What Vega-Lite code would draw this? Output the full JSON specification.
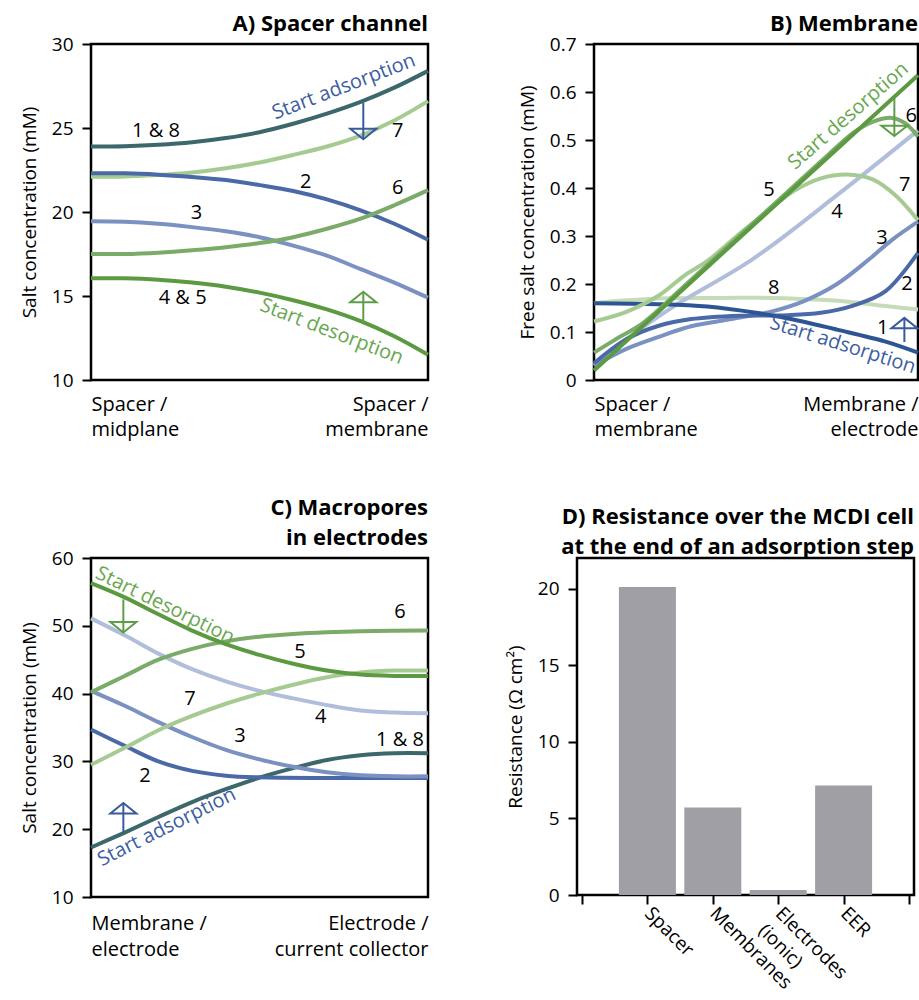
{
  "$schema": "https://vega.github.io/schema/vega-lite/v6.json",
  "background": "white",
  "padding": {"left": 19, "top": 11, "right": 0, "bottom": 0},
  "spacing": 54,
  "vconcat": [
    {
      "spacing": 79,
      "hconcat": [
        {
          "width": 337, "height": 336,
          "title": {"text": "A) Spacer channel"},
          "encoding": {
            "x": {"field": "t", "type": "quantitative", "scale": {"domain": [0, 1], "nice": false},
                  "axis": {"title": null, "values": [0, 1], "ticks": false, "labelFlush": true, "labelPadding": 14, "labelBaseline": "top", "labelFontSize": 20, "labelLineHeight": 25,
                           "labelExpr": "datum.value < 0.5 ? ['Spacer /', 'midplane'] : ['Spacer /', 'membrane']"}},
            "y": {"field": "v", "type": "quantitative", "scale": {"domain": [10, 30], "nice": false, "zero": false},
                  "axis": {"title": "Salt concentration (mM)", "values": [10, 15, 20, 25, 30]}}
          },
          "layer": [
            {
              "data": {"values": [
                {"c": "1 & 8", "t": 0, "v": 23.9}, {"c": "1 & 8", "t": 0.1, "v": 23.92}, {"c": "1 & 8", "t": 0.2, "v": 24.0}, {"c": "1 & 8", "t": 0.3, "v": 24.15}, {"c": "1 & 8", "t": 0.4, "v": 24.4}, {"c": "1 & 8", "t": 0.5, "v": 24.75}, {"c": "1 & 8", "t": 0.6, "v": 25.25}, {"c": "1 & 8", "t": 0.7, "v": 25.85}, {"c": "1 & 8", "t": 0.8, "v": 26.55}, {"c": "1 & 8", "t": 0.9, "v": 27.4}, {"c": "1 & 8", "t": 1, "v": 28.4},
                {"c": "7", "t": 0, "v": 22.1}, {"c": "7", "t": 0.1, "v": 22.12}, {"c": "7", "t": 0.2, "v": 22.2}, {"c": "7", "t": 0.3, "v": 22.35}, {"c": "7", "t": 0.4, "v": 22.6}, {"c": "7", "t": 0.5, "v": 22.95}, {"c": "7", "t": 0.6, "v": 23.4}, {"c": "7", "t": 0.7, "v": 23.9}, {"c": "7", "t": 0.8, "v": 24.55}, {"c": "7", "t": 0.9, "v": 25.45}, {"c": "7", "t": 1, "v": 26.6},
                {"c": "2", "t": 0, "v": 22.3}, {"c": "2", "t": 0.1, "v": 22.3}, {"c": "2", "t": 0.2, "v": 22.22}, {"c": "2", "t": 0.3, "v": 22.08}, {"c": "2", "t": 0.4, "v": 21.9}, {"c": "2", "t": 0.5, "v": 21.6}, {"c": "2", "t": 0.6, "v": 21.25}, {"c": "2", "t": 0.7, "v": 20.75}, {"c": "2", "t": 0.8, "v": 20.1}, {"c": "2", "t": 0.9, "v": 19.3}, {"c": "2", "t": 1, "v": 18.35},
                {"c": "3", "t": 0, "v": 19.45}, {"c": "3", "t": 0.1, "v": 19.42}, {"c": "3", "t": 0.2, "v": 19.3}, {"c": "3", "t": 0.3, "v": 19.1}, {"c": "3", "t": 0.4, "v": 18.85}, {"c": "3", "t": 0.5, "v": 18.5}, {"c": "3", "t": 0.6, "v": 18.0}, {"c": "3", "t": 0.7, "v": 17.4}, {"c": "3", "t": 0.8, "v": 16.6}, {"c": "3", "t": 0.9, "v": 15.8}, {"c": "3", "t": 1, "v": 14.9},
                {"c": "6", "t": 0, "v": 17.5}, {"c": "6", "t": 0.1, "v": 17.5}, {"c": "6", "t": 0.2, "v": 17.58}, {"c": "6", "t": 0.3, "v": 17.72}, {"c": "6", "t": 0.4, "v": 17.9}, {"c": "6", "t": 0.5, "v": 18.15}, {"c": "6", "t": 0.6, "v": 18.5}, {"c": "6", "t": 0.7, "v": 19.0}, {"c": "6", "t": 0.8, "v": 19.6}, {"c": "6", "t": 0.9, "v": 20.4}, {"c": "6", "t": 1, "v": 21.3},
                {"c": "4 & 5", "t": 0, "v": 16.05}, {"c": "4 & 5", "t": 0.1, "v": 16.05}, {"c": "4 & 5", "t": 0.2, "v": 15.97}, {"c": "4 & 5", "t": 0.3, "v": 15.8}, {"c": "4 & 5", "t": 0.4, "v": 15.55}, {"c": "4 & 5", "t": 0.5, "v": 15.2}, {"c": "4 & 5", "t": 0.6, "v": 14.75}, {"c": "4 & 5", "t": 0.7, "v": 14.2}, {"c": "4 & 5", "t": 0.8, "v": 13.5}, {"c": "4 & 5", "t": 0.9, "v": 12.6}, {"c": "4 & 5", "t": 1, "v": 11.5}
              ]},
              "mark": {"type": "line", "interpolate": "catmull-rom", "strokeWidth": 4},
              "encoding": {"color": {"field": "c", "type": "nominal", "legend": null, "sort": null,
                "scale": {"domain": ["1 & 8", "1", "2", "3", "4", "4 & 5", "5", "6", "7", "8"], "range": ["#3c676c", "#2d5593", "#4a69a6", "#7b91c1", "#b0bedb", "#5b9a41", "#5b9a41", "#7aab68", "#a5cb92", "#c5dcb8"]}}}
            },
            {
              "data": {"values": [
                {"label": "1 & 8", "t": 0.193, "v": 24.85}, {"label": "7", "t": 0.91, "v": 24.85}, {"label": "2", "t": 0.637, "v": 21.8},
                {"label": "6", "t": 0.91, "v": 21.4}, {"label": "3", "t": 0.313, "v": 19.95}, {"label": "4 & 5", "t": 0.272, "v": 14.9}
              ]},
              "mark": {"type": "text", "fontSize": 20, "color": "black"},
              "encoding": {"text": {"field": "label"}}
            },
            {
              "data": {"values": [{"label": "Start adsorption", "t": 0.75, "v": 27.45}]},
              "mark": {"type": "text", "fontSize": 20, "angle": 339, "color": "#3d5da3"},
              "encoding": {"text": {"field": "label"}}
            },
            {
              "data": {"values": [{"label": "Start desorption", "t": 0.714, "v": 12.88}]},
              "mark": {"type": "text", "fontSize": 20, "angle": 21, "color": "#68a74f"},
              "encoding": {"text": {"field": "label"}}
            },
            {
              "data": {"values": [{"t": 0.808, "v": 26.5, "v2": 24.34}]},
              "mark": {"type": "rule", "color": "#3a5a9e", "strokeWidth": 2},
              "encoding": {"y2": {"field": "v2"}}
            },
            {
              "data": {"values": [{"t": 0.808, "v": 24.64}]},
              "mark": {"type": "point", "shape": "M-1,-0.4L1,-0.4L0,0.4Z", "size": 676, "filled": false, "stroke": "#3a5a9e", "strokeWidth": 2, "opacity": 1},
              "encoding": {}
            },
            {
              "data": {"values": [{"t": 0.808, "v": 13.38, "v2": 15.24}]},
              "mark": {"type": "rule", "color": "#5e9e48", "strokeWidth": 2},
              "encoding": {"y2": {"field": "v2"}}
            },
            {
              "data": {"values": [{"t": 0.808, "v": 14.94}]},
              "mark": {"type": "point", "shape": "M-1,0.4L1,0.4L0,-0.4Z", "size": 676, "filled": false, "stroke": "#5e9e48", "strokeWidth": 2, "opacity": 1},
              "encoding": {}
            }
          ]
        },
        {
          "width": 324, "height": 336,
          "title": {"text": "B) Membrane"},
          "encoding": {
            "x": {"field": "t", "type": "quantitative", "scale": {"domain": [0, 1], "nice": false},
                  "axis": {"title": null, "values": [0, 1], "ticks": false, "labelFlush": true, "labelPadding": 14, "labelBaseline": "top", "labelFontSize": 20, "labelLineHeight": 25,
                           "labelExpr": "datum.value < 0.5 ? ['Spacer /', 'membrane'] : ['Membrane /', 'electrode']"}},
            "y": {"field": "v", "type": "quantitative", "scale": {"domain": [0, 0.7], "nice": false},
                  "axis": {"title": "Free salt concentration (mM)", "values": [0, 0.1, 0.2, 0.3, 0.4, 0.5, 0.6, 0.7], "format": "~g"}}
          },
          "layer": [
            {
              "data": {"values": [
                {"c": "8", "t": 0, "v": 0.16}, {"c": "8", "t": 0.1, "v": 0.166}, {"c": "8", "t": 0.2, "v": 0.17}, {"c": "8", "t": 0.4, "v": 0.171}, {"c": "8", "t": 0.55, "v": 0.171}, {"c": "8", "t": 0.7, "v": 0.167}, {"c": "8", "t": 0.8, "v": 0.162}, {"c": "8", "t": 0.9, "v": 0.154}, {"c": "8", "t": 1, "v": 0.147},
                {"c": "4", "t": 0, "v": 0.03}, {"c": "4", "t": 0.1, "v": 0.085}, {"c": "4", "t": 0.25, "v": 0.155}, {"c": "4", "t": 0.49, "v": 0.252}, {"c": "4", "t": 0.75, "v": 0.385}, {"c": "4", "t": 1, "v": 0.52},
                {"c": "3", "t": 0, "v": 0.03}, {"c": "3", "t": 0.1, "v": 0.065}, {"c": "3", "t": 0.2, "v": 0.09}, {"c": "3", "t": 0.3, "v": 0.112}, {"c": "3", "t": 0.45, "v": 0.13}, {"c": "3", "t": 0.55, "v": 0.143}, {"c": "3", "t": 0.65, "v": 0.165}, {"c": "3", "t": 0.75, "v": 0.2}, {"c": "3", "t": 0.85, "v": 0.252}, {"c": "3", "t": 0.92, "v": 0.292}, {"c": "3", "t": 1, "v": 0.33},
                {"c": "2", "t": 0, "v": 0.035}, {"c": "2", "t": 0.1, "v": 0.085}, {"c": "2", "t": 0.2, "v": 0.113}, {"c": "2", "t": 0.3, "v": 0.127}, {"c": "2", "t": 0.45, "v": 0.134}, {"c": "2", "t": 0.6, "v": 0.135}, {"c": "2", "t": 0.7, "v": 0.14}, {"c": "2", "t": 0.8, "v": 0.155}, {"c": "2", "t": 0.9, "v": 0.185}, {"c": "2", "t": 1, "v": 0.265},
                {"c": "1", "t": 0, "v": 0.16}, {"c": "1", "t": 0.2, "v": 0.158}, {"c": "1", "t": 0.35, "v": 0.153}, {"c": "1", "t": 0.5, "v": 0.14}, {"c": "1", "t": 0.6, "v": 0.128}, {"c": "1", "t": 0.75, "v": 0.105}, {"c": "1", "t": 0.9, "v": 0.08}, {"c": "1", "t": 1, "v": 0.057},
                {"c": "7", "t": 0, "v": 0.122}, {"c": "7", "t": 0.1, "v": 0.142}, {"c": "7", "t": 0.2, "v": 0.176}, {"c": "7", "t": 0.28, "v": 0.218}, {"c": "7", "t": 0.35, "v": 0.248}, {"c": "7", "t": 0.45, "v": 0.305}, {"c": "7", "t": 0.55, "v": 0.36}, {"c": "7", "t": 0.62, "v": 0.395}, {"c": "7", "t": 0.7, "v": 0.42}, {"c": "7", "t": 0.78, "v": 0.428}, {"c": "7", "t": 0.86, "v": 0.418}, {"c": "7", "t": 0.93, "v": 0.385}, {"c": "7", "t": 1, "v": 0.333},
                {"c": "6", "t": 0, "v": 0.057}, {"c": "6", "t": 0.08, "v": 0.09}, {"c": "6", "t": 0.15, "v": 0.118}, {"c": "6", "t": 0.3, "v": 0.209}, {"c": "6", "t": 0.5, "v": 0.332}, {"c": "6", "t": 0.7, "v": 0.455}, {"c": "6", "t": 0.8, "v": 0.515}, {"c": "6", "t": 0.86, "v": 0.538}, {"c": "6", "t": 0.92, "v": 0.546}, {"c": "6", "t": 0.96, "v": 0.535}, {"c": "6", "t": 1, "v": 0.507},
                {"c": "5", "t": 0, "v": 0.02}, {"c": "5", "t": 0.5, "v": 0.3275}, {"c": "5", "t": 1, "v": 0.635}
              ]},
              "mark": {"type": "line", "interpolate": "catmull-rom", "strokeWidth": 4},
              "encoding": {"color": {"field": "c", "type": "nominal", "legend": null, "sort": null,
                "scale": {"domain": ["1 & 8", "1", "2", "3", "4", "4 & 5", "5", "6", "7", "8"], "range": ["#3c676c", "#2d5593", "#4a69a6", "#7b91c1", "#b0bedb", "#5b9a41", "#5b9a41", "#7aab68", "#a5cb92", "#c5dcb8"]}}}
            },
            {
              "data": {"values": [
                {"label": "5", "t": 0.54, "v": 0.396}, {"label": "4", "t": 0.75, "v": 0.349}, {"label": "3", "t": 0.889, "v": 0.296}, {"label": "2", "t": 0.966, "v": 0.2},
                {"label": "8", "t": 0.555, "v": 0.192}, {"label": "1", "t": 0.891, "v": 0.108}, {"label": "7", "t": 0.959, "v": 0.407}, {"label": "6", "t": 0.979, "v": 0.549}
              ]},
              "mark": {"type": "text", "fontSize": 20, "color": "black"},
              "encoding": {"text": {"field": "label"}}
            },
            {
              "data": {"values": [{"label": "Start desorption", "t": 0.785, "v": 0.55}]},
              "mark": {"type": "text", "fontSize": 20, "angle": 319, "color": "#68a74f"},
              "encoding": {"text": {"field": "label"}}
            },
            {
              "data": {"values": [{"label": "Start adsorption", "t": 0.768, "v": 0.073}]},
              "mark": {"type": "text", "fontSize": 20, "angle": 17.5, "color": "#3d5da3"},
              "encoding": {"text": {"field": "label"}}
            },
            {
              "data": {"values": [{"t": 0.927, "v": 0.589, "v2": 0.508}]},
              "mark": {"type": "rule", "color": "#5e9e48", "strokeWidth": 2},
              "encoding": {"y2": {"field": "v2"}}
            },
            {
              "data": {"values": [{"t": 0.927, "v": 0.519}]},
              "mark": {"type": "point", "shape": "M-1,-0.4L1,-0.4L0,0.4Z", "size": 676, "filled": false, "stroke": "#5e9e48", "strokeWidth": 2, "opacity": 1},
              "encoding": {}
            },
            {
              "data": {"values": [{"t": 0.958, "v": 0.079, "v2": 0.129}]},
              "mark": {"type": "rule", "color": "#3a5a9e", "strokeWidth": 2},
              "encoding": {"y2": {"field": "v2"}}
            },
            {
              "data": {"values": [{"t": 0.958, "v": 0.1186}]},
              "mark": {"type": "point", "shape": "M-1,0.4L1,0.4L0,-0.4Z", "size": 676, "filled": false, "stroke": "#3a5a9e", "strokeWidth": 2, "opacity": 1},
              "encoding": {}
            }
          ]
        }
      ]
    },
    {
      "spacing": 67,
      "hconcat": [
        {
          "width": 337, "height": 339,
          "title": {"text": ["C) Macropores", "in electrodes"]},
          "encoding": {
            "x": {"field": "t", "type": "quantitative", "scale": {"domain": [0, 1], "nice": false},
                  "axis": {"title": null, "values": [0, 1], "ticks": false, "labelFlush": true, "labelPadding": 16, "labelBaseline": "top", "labelFontSize": 20, "labelLineHeight": 26,
                           "labelExpr": "datum.value < 0.5 ? ['Membrane /', 'electrode'] : ['Electrode /', 'current collector']"}},
            "y": {"field": "v", "type": "quantitative", "scale": {"domain": [10, 60], "nice": false, "zero": false},
                  "axis": {"title": "Salt concentration (mM)", "values": [10, 20, 30, 40, 50, 60]}}
          },
          "layer": [
            {
              "data": {"values": [
                {"c": "1 & 8", "t": 0, "v": 17.3}, {"c": "1 & 8", "t": 0.1, "v": 19.5}, {"c": "1 & 8", "t": 0.2, "v": 21.8}, {"c": "1 & 8", "t": 0.3, "v": 24.0}, {"c": "1 & 8", "t": 0.4, "v": 25.9}, {"c": "1 & 8", "t": 0.5, "v": 27.6}, {"c": "1 & 8", "t": 0.6, "v": 29.0}, {"c": "1 & 8", "t": 0.7, "v": 30.2}, {"c": "1 & 8", "t": 0.8, "v": 30.9}, {"c": "1 & 8", "t": 0.9, "v": 31.2}, {"c": "1 & 8", "t": 1, "v": 31.2},
                {"c": "2", "t": 0, "v": 34.7}, {"c": "2", "t": 0.1, "v": 32.3}, {"c": "2", "t": 0.2, "v": 30.0}, {"c": "2", "t": 0.3, "v": 28.6}, {"c": "2", "t": 0.4, "v": 27.9}, {"c": "2", "t": 0.5, "v": 27.65}, {"c": "2", "t": 0.7, "v": 27.55}, {"c": "2", "t": 1, "v": 27.55},
                {"c": "3", "t": 0, "v": 40.4}, {"c": "3", "t": 0.1, "v": 38.2}, {"c": "3", "t": 0.2, "v": 35.8}, {"c": "3", "t": 0.3, "v": 33.6}, {"c": "3", "t": 0.4, "v": 31.7}, {"c": "3", "t": 0.5, "v": 30.3}, {"c": "3", "t": 0.6, "v": 29.2}, {"c": "3", "t": 0.7, "v": 28.4}, {"c": "3", "t": 0.8, "v": 27.95}, {"c": "3", "t": 0.9, "v": 27.8}, {"c": "3", "t": 1, "v": 27.8},
                {"c": "4", "t": 0, "v": 51.1}, {"c": "4", "t": 0.1, "v": 48.6}, {"c": "4", "t": 0.2, "v": 45.9}, {"c": "4", "t": 0.3, "v": 43.6}, {"c": "4", "t": 0.4, "v": 41.8}, {"c": "4", "t": 0.5, "v": 40.4}, {"c": "4", "t": 0.6, "v": 39.3}, {"c": "4", "t": 0.7, "v": 38.3}, {"c": "4", "t": 0.8, "v": 37.5}, {"c": "4", "t": 0.9, "v": 37.2}, {"c": "4", "t": 1, "v": 37.1},
                {"c": "7", "t": 0, "v": 29.5}, {"c": "7", "t": 0.1, "v": 32.0}, {"c": "7", "t": 0.2, "v": 34.6}, {"c": "7", "t": 0.3, "v": 36.7}, {"c": "7", "t": 0.4, "v": 38.5}, {"c": "7", "t": 0.5, "v": 40.0}, {"c": "7", "t": 0.6, "v": 41.3}, {"c": "7", "t": 0.7, "v": 42.4}, {"c": "7", "t": 0.8, "v": 43.1}, {"c": "7", "t": 0.9, "v": 43.4}, {"c": "7", "t": 1, "v": 43.4},
                {"c": "6", "t": 0, "v": 40.2}, {"c": "6", "t": 0.1, "v": 42.6}, {"c": "6", "t": 0.2, "v": 45.0}, {"c": "6", "t": 0.3, "v": 46.6}, {"c": "6", "t": 0.4, "v": 47.7}, {"c": "6", "t": 0.5, "v": 48.4}, {"c": "6", "t": 0.6, "v": 48.8}, {"c": "6", "t": 0.7, "v": 49.05}, {"c": "6", "t": 0.8, "v": 49.2}, {"c": "6", "t": 1, "v": 49.3},
                {"c": "5", "t": 0, "v": 56.3}, {"c": "5", "t": 0.1, "v": 54.2}, {"c": "5", "t": 0.2, "v": 51.7}, {"c": "5", "t": 0.3, "v": 49.3}, {"c": "5", "t": 0.4, "v": 47.3}, {"c": "5", "t": 0.5, "v": 45.7}, {"c": "5", "t": 0.6, "v": 44.4}, {"c": "5", "t": 0.7, "v": 43.4}, {"c": "5", "t": 0.8, "v": 42.8}, {"c": "5", "t": 0.9, "v": 42.6}, {"c": "5", "t": 1, "v": 42.6}
              ]},
              "mark": {"type": "line", "interpolate": "catmull-rom", "strokeWidth": 4},
              "encoding": {"color": {"field": "c", "type": "nominal", "legend": null, "sort": null,
                "scale": {"domain": ["1 & 8", "1", "2", "3", "4", "4 & 5", "5", "6", "7", "8"], "range": ["#3c676c", "#2d5593", "#4a69a6", "#7b91c1", "#b0bedb", "#5b9a41", "#5b9a41", "#7aab68", "#a5cb92", "#c5dcb8"]}}}
            },
            {
              "data": {"values": [
                {"label": "6", "t": 0.917, "v": 52.0}, {"label": "5", "t": 0.62, "v": 46.2}, {"label": "7", "t": 0.294, "v": 39.2}, {"label": "4", "t": 0.682, "v": 36.5},
                {"label": "3", "t": 0.442, "v": 33.7}, {"label": "1 & 8", "t": 0.917, "v": 33.1}, {"label": "2", "t": 0.16, "v": 27.8}
              ]},
              "mark": {"type": "text", "fontSize": 20, "color": "black"},
              "encoding": {"text": {"field": "label"}}
            },
            {
              "data": {"values": [{"label": "Start desorption", "t": 0.22, "v": 53.0}]},
              "mark": {"type": "text", "fontSize": 20, "angle": 26, "color": "#68a74f"},
              "encoding": {"text": {"field": "label"}}
            },
            {
              "data": {"values": [{"label": "Start adsorption", "t": 0.225, "v": 20.3}]},
              "mark": {"type": "text", "fontSize": 20, "angle": 333.4, "color": "#3d5da3"},
              "encoding": {"text": {"field": "label"}}
            },
            {
              "data": {"values": [{"t": 0.096, "v": 53.9, "v2": 49.1}]},
              "mark": {"type": "rule", "color": "#5e9e48", "strokeWidth": 2},
              "encoding": {"y2": {"field": "v2"}}
            },
            {
              "data": {"values": [{"t": 0.096, "v": 49.78}]},
              "mark": {"type": "point", "shape": "M-1,-0.4L1,-0.4L0,0.4Z", "size": 676, "filled": false, "stroke": "#5e9e48", "strokeWidth": 2, "opacity": 1},
              "encoding": {}
            },
            {
              "data": {"values": [{"t": 0.096, "v": 19.55, "v2": 23.8}]},
              "mark": {"type": "rule", "color": "#3a5a9e", "strokeWidth": 2},
              "encoding": {"y2": {"field": "v2"}}
            },
            {
              "data": {"values": [{"t": 0.096, "v": 23.1}]},
              "mark": {"type": "point", "shape": "M-1,0.4L1,0.4L0,-0.4Z", "size": 676, "filled": false, "stroke": "#3a5a9e", "strokeWidth": 2, "opacity": 1},
              "encoding": {}
            }
          ]
        },
        {
          "width": 337, "height": 337,
          "title": {"text": ["D) Resistance over the MCDI cell", "at the end of an adsorption step"]},
          "data": {"values": [
            {"pos": 1, "component": "Spacer", "r": 20.1},
            {"pos": 2, "component": "Membranes", "r": 5.72},
            {"pos": 3, "component": "Electrodes (ionic)", "r": 0.33},
            {"pos": 4, "component": "EER", "r": 7.15}
          ]},
          "mark": {"type": "bar", "size": 57, "color": "#a09fa5"},
          "encoding": {
            "x": {"field": "pos", "type": "quantitative", "scale": {"domain": [0, 5], "nice": false},
                  "axis": {"title": null, "values": [0, 1, 2, 3, 4, 5], "labelAngle": 45, "labelAlign": "left", "labelBaseline": "middle", "labelPadding": 6, "labelLineHeight": 24, "labelOverlap": false, "labelBound": false,
                           "labelExpr": "datum.value == 1 ? 'Spacer' : datum.value == 2 ? 'Membranes' : datum.value == 3 ? ['Electrodes', '(ionic)'] : datum.value == 4 ? 'EER' : ''"}},
            "y": {"field": "r", "type": "quantitative", "scale": {"domain": [0, 22], "nice": false},
                  "axis": {"title": "Resistance (Ω cm²)", "values": [0, 5, 10, 15, 20]}}
          }
        }
      ]
    }
  ],
  "config": {
    "font": "Open Sans",
    "view": {"stroke": "black", "strokeWidth": 2.5},
    "axis": {"domain": false, "grid": false, "labelFont": "Open Sans", "titleFont": "Open Sans", "labelFontSize": 19, "titleFontSize": 19, "titleFontWeight": "normal",
             "labelColor": "black", "titleColor": "black", "tickColor": "black", "tickWidth": 2, "tickSize": 9, "labelPadding": 9, "titlePadding": 12},
    "text": {"font": "Open Sans"},
    "title": {"font": "Open Sans", "fontSize": 22, "fontWeight": "bold", "anchor": "end", "frame": "group", "color": "black", "offset": -1, "lineHeight": 30}
  }
}
